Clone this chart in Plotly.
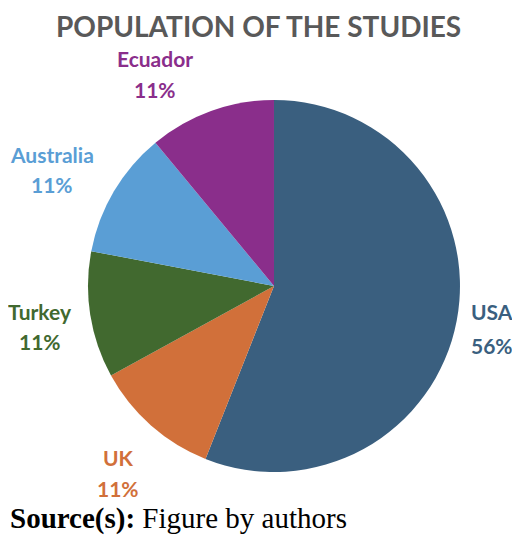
import plotly.graph_objects as go

paises = ["USA", "UK", "Turkey", "Australia", "Ecuador"]
percentuais = [56, 11, 11, 11, 11]
cores = ["#3A5F7F", "#D1703A", "#41692F", "#5A9ED5", "#8A2E8B"]

# centro dos rotulos (x, y nome, y percentual) em coords do papel
rot_pos = {
    "USA": (0.960, 0.4286, 0.3665),
    "UK": (0.2183, 0.156, 0.0977),
    "Turkey": (0.0635, 0.4286, 0.3722),
    "Australia": (0.0873, 0.7237, 0.6673),
    "Ecuador": (0.2917, 0.906, 0.8477),
}

FONTE = "Lato"

fig = go.Figure()
fig.add_trace(go.Pie(
    labels=paises, values=percentuais,
    marker=dict(colors=cores, line=dict(width=0)),
    sort=False, direction="clockwise", rotation=0,
    textinfo="none", hoverinfo="label+percent",
    domain=dict(x=[0.1587, 0.8968], y=[0.1278, 0.8271]),
    showlegend=False,
))

for p, v, c in zip(paises, percentuais, cores):
    x, y_nome, y_pct = rot_pos[p]
    for txt, y in [(p, y_nome), (f"{v}%", y_pct)]:
        fig.add_annotation(
            x=x, y=y, xref="paper", yref="paper", showarrow=False,
            xanchor="center", yanchor="middle", text=txt,
            font=dict(family=FONTE, size=21, color=c, weight="bold"),
        )

fig.add_annotation(
    x=0.498, y=1.0, xref="paper", yref="paper", showarrow=False,
    xanchor="center", yanchor="top", borderpad=0,
    text="POPULATION OF THE STUDIES",
    font=dict(family=FONTE, size=28, color="#595959", weight="bold"),
)

fig.add_annotation(
    x=0.0, y=0.0395, xref="paper", yref="paper", showarrow=False,
    xanchor="left", yanchor="middle",
    text="<b>Source(s):</b> Figure by authors",
    font=dict(family="Liberation Serif", size=29, color="#000000"),
)

fig.update_layout(
    width=504, height=532,
    margin=dict(l=0, r=0, t=0, b=0),
    paper_bgcolor="#FFFFFF", plot_bgcolor="#FFFFFF",
)

fig.write_html("out.html")
